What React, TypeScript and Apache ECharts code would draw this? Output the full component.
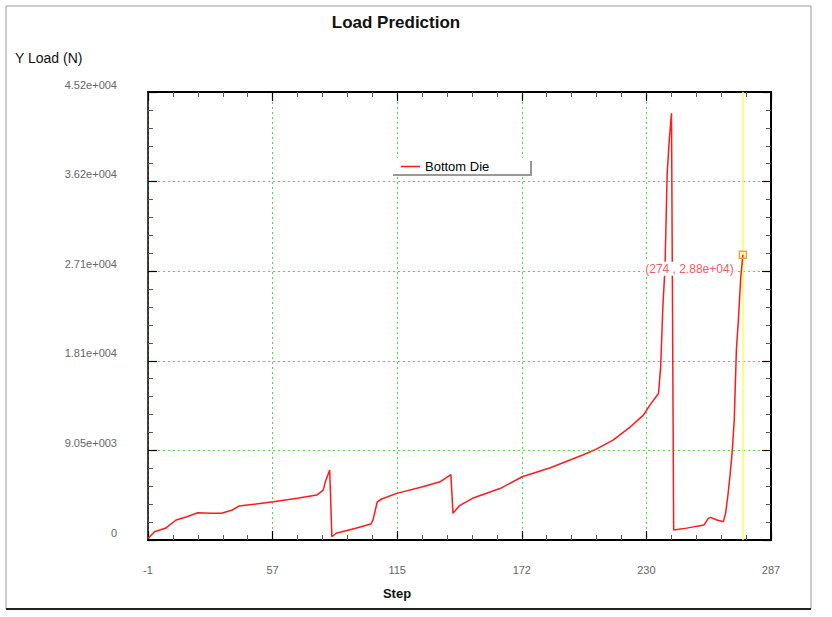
import React, { useEffect, useRef } from "react";
import * as echarts from "echarts";

// ---- data ----
const steps = [
  -1, 2, 7, 12, 17, 22, 28, 33, 38, 41, 57, 68, 77, 80, 81, 83, 84, 86, 95, 102,
  103, 105, 107, 114, 126, 134, 139, 140, 143, 149, 162, 172, 185, 200, 206, 214,
  222, 228, 231, 235, 236, 237, 238, 239, 240, 241, 242, 248, 253, 256, 258, 259,
  262, 265, 266, 267, 268, 269, 270, 271, 272, 273, 274,
];
const loads = [
  150, 840, 1180, 2020, 2350, 2750, 2690, 2700, 3030, 3430, 3860, 4210, 4540, 5040,
  5900, 7060, 330, 680, 1180, 1610, 2020, 3860, 4140, 4710, 5380, 5880, 6600, 2690,
  3480, 4210, 5220, 6390, 7290, 8580, 9150, 10090, 11430, 12610, 13620, 14800,
  17500, 23500, 27500, 37000, 40500, 43100, 1000, 1200, 1400, 1510, 2190, 2290,
  2020, 1850, 2690, 4370, 6390, 8750, 12100, 19200, 22500, 26500, 28800,
];
const xTickLabels = ["-1", "57", "115", "172", "230", "287"];
const yTickLabels = ["0", "9.05e+003", "1.81e+004", "2.71e+004", "3.62e+004", "4.52e+004"];
const seriesName = "Bottom Die";
const cursorStep = 274;
const cursorLoad = 28800;
const cursorText = "(274 , 2.88e+04)";

// axis domain
const X_ORIGIN = -1; // first step on the axis
const X_SPAN = 288;
const X_INTERVAL = X_SPAN / 5;
const Y_MAX = 45240;
const Y_INTERVAL = Y_MAX / 5;

const FONT = "Liberation Sans, Arial, Helvetica, sans-serif";

export default function App() {
  const ref = useRef<HTMLDivElement>(null);

  useEffect(() => {
    if (!ref.current) return;
    const chart = echarts.init(ref.current, null, { renderer: "svg" });

    const data = steps.map((s, i) => [s - X_ORIGIN, loads[i]]);

    const tickCommon = {
      axisTick: { show: true, inside: true, length: 9, lineStyle: { color: "#000", width: 1.2 } },
      minorTick: { show: true, splitNumber: 5, length: 5, lineStyle: { color: "#555", width: 1 } },
      minorSplitLine: { show: false },
    };
    const line = (w: number) => ({ show: true, onZero: false, lineStyle: { color: "#000", width: w } });

    const xBase = {
      type: "value" as const,
      min: 0,
      max: X_SPAN,
      interval: X_INTERVAL,
      ...tickCommon,
    };
    const yBase = {
      type: "value" as const,
      min: 0,
      max: Y_MAX,
      interval: Y_INTERVAL,
      ...tickCommon,
    };

    chart.setOption({
      animation: false,
      backgroundColor: "#fff",
      grid: { left: 148, right: 61, top: 92, bottom: 77, containLabel: false },
      legend: {
        data: [seriesName],
        left: 393,
        top: 158,
        padding: [2, 38, 2, 8],
        backgroundColor: "#fff",
        icon: "rect",
        itemWidth: 19,
        itemHeight: 1.5,
        itemGap: 7,
        selectedMode: false,
        textStyle: { fontSize: 13, color: "#000", fontFamily: FONT },
      },
      xAxis: [
        {
          ...xBase,
          position: "bottom",
          axisLine: line(2),
          axisLabel: {
            show: true,
            margin: 24,
            fontSize: 11,
            color: "#666",
            fontFamily: FONT,
            formatter: (v: number) => xTickLabels[Math.round(v / X_INTERVAL)] ?? "",
          },
          splitLine: { show: true, lineStyle: { color: "#44e044", type: [2, 3], width: 1 } },
        },
        {
          ...xBase,
          position: "top",
          axisLine: line(2),
          axisLabel: { show: false },
          splitLine: { show: false },
        },
      ],
      yAxis: [
        {
          ...yBase,
          position: "left",
          axisLine: line(1.5),
          axisLabel: {
            show: true,
            margin: 31,
            fontSize: 11,
            color: "#666",
            fontFamily: FONT,
            verticalAlign: "bottom",
            padding: [0, 0, 2, 0],
            formatter: (v: number) => yTickLabels[Math.round(v / Y_INTERVAL)] ?? "",
          },
          splitLine: { show: true, lineStyle: { color: "#44e044", type: [2, 3], width: 1 } },
        },
        {
          ...yBase,
          position: "right",
          axisLine: line(2),
          axisLabel: { show: false },
          splitLine: { show: false },
        },
      ],
      series: [
        {
          name: seriesName,
          type: "line",
          xAxisIndex: 0,
          yAxisIndex: 0,
          data,
          showSymbol: false,
          symbol: "none",
          color: "#ff1a1a",
          lineStyle: { color: "#ff1a1a", width: 1.5 },
          markLine: {
            silent: true,
            symbol: "none",
            label: { show: false },
            lineStyle: { color: "#ffff55", width: 1.5, type: "solid" },
            data: [{ xAxis: cursorStep - X_ORIGIN }],
            z: 1,
          },
          markPoint: {
            silent: true,
            symbol: "rect",
            symbolSize: 7,
            itemStyle: { color: "rgba(255,255,255,0)", borderColor: "#f5a030", borderWidth: 1.5 },
            label: {
              show: true,
              position: "left",
              distance: 4,
              offset: [0, 14],
              formatter: cursorText,
              color: "#f06060",
              fontSize: 12,
              fontFamily: FONT,
              backgroundColor: "#fff",
              padding: [1, 1, 1, 1],
            },
            data: [{ coord: [cursorStep - X_ORIGIN, cursorLoad] }],
          },
        },
      ],
      graphic: [
        {
          type: "rect",
          silent: true,
          shape: { x: 6, y: 6, width: 805, height: 603 },
          style: { fill: "none", stroke: "#9a9a9a", lineWidth: 1 },
        },
        {
          type: "line",
          silent: true,
          shape: { x1: 6, y1: 609, x2: 811, y2: 609 },
          style: { stroke: "#222", lineWidth: 2 },
        },
        {
          type: "text",
          silent: true,
          x: 396,
          y: 22,
          style: {
            text: "Load Prediction",
            align: "center",
            verticalAlign: "middle",
            fontSize: 17,
            fontWeight: "bold",
            fontFamily: FONT,
            fill: "#111",
          },
        },
        {
          type: "text",
          silent: true,
          x: 15,
          y: 58,
          style: {
            text: "Y Load (N)",
            align: "left",
            verticalAlign: "middle",
            fontSize: 14,
            fontFamily: FONT,
            fill: "#111",
          },
        },
        {
          type: "text",
          silent: true,
          x: 397,
          y: 593,
          style: {
            text: "Step",
            align: "center",
            verticalAlign: "middle",
            fontSize: 13,
            fontWeight: "bold",
            fontFamily: FONT,
            fill: "#111",
          },
        },
        {
          type: "polyline",
          silent: true,
          z: 100,
          shape: { points: [[393, 175], [531, 175], [531, 161]] },
          style: { fill: "none", stroke: "#999", lineWidth: 2 },
        },
      ],
    });

    return () => chart.dispose();
  }, []);

  return (
    <div
      ref={ref}
      style={{ position: "fixed", left: 0, top: 0, width: 832, height: 617, background: "#fff" }}
    />
  );
}
